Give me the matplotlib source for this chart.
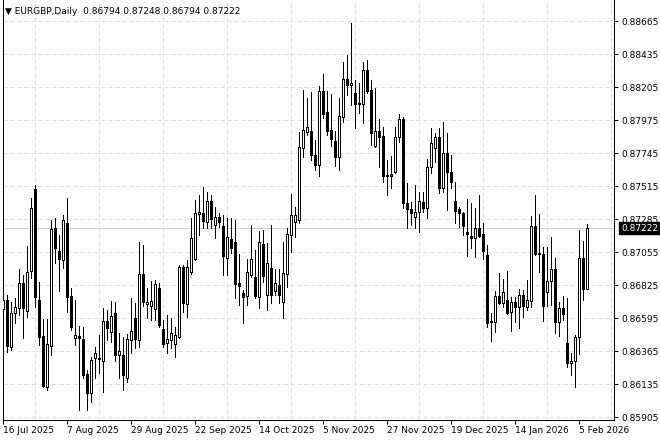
import numpy as np
import pandas as pd
import matplotlib
matplotlib.use("Agg")
import matplotlib.pyplot as plt
import matplotlib.transforms as mtransforms

# ----- EURGBP daily candles ----- #
symbol = "EURGBP,Daily"

opens = [0.86657, 0.86720, 0.86392, 0.86629, 0.86664, 0.86839, 0.86643, 0.86922, 0.87494, 0.86720,
         0.86469, 0.86114, 0.86399, 0.87222, 0.87062, 0.86999, 0.87257, 0.86748, 0.86455, 0.86469,
         0.86448, 0.86204, 0.86072, 0.86316, 0.86316, 0.86295, 0.86574, 0.86497, 0.86629, 0.86337,
         0.86337, 0.86176, 0.86441, 0.86594, 0.86441, 0.86901, 0.86692, 0.86678, 0.86657, 0.86804,
         0.86518, 0.86420, 0.86441, 0.86413, 0.86462, 0.86950, 0.86692, 0.86915, 0.87006, 0.87319,
         0.87326, 0.87264, 0.87410, 0.87243, 0.87299, 0.87236, 0.87013, 0.87145, 0.87124, 0.86839,
         0.86769, 0.86748, 0.86894, 0.86880, 0.86741, 0.87110, 0.86755, 0.86943, 0.86783, 0.86825,
         0.86706, 0.86901, 0.87173, 0.87264, 0.87278, 0.87779, 0.87891, 0.87898, 0.87731, 0.87661,
         0.88177, 0.88030, 0.87905, 0.87828, 0.87717, 0.87996, 0.88260, 0.88219, 0.88163, 0.88086,
         0.88086, 0.88323, 0.88184, 0.87793, 0.87898, 0.87863, 0.87584, 0.87598, 0.87612, 0.87856,
         0.87982, 0.87396, 0.87354, 0.87299, 0.87333, 0.87403, 0.87361, 0.87647, 0.87779, 0.87856,
         0.87501, 0.87745, 0.87612, 0.87410, 0.87354, 0.87326, 0.87194, 0.87166, 0.87152, 0.87222,
         0.87180, 0.87034, 0.86574, 0.86567, 0.86748, 0.86699, 0.86720, 0.86636, 0.86706, 0.86671,
         0.86755, 0.86671, 0.86713, 0.87236, 0.87048, 0.87041, 0.86776, 0.86852, 0.86936, 0.86567,
         0.86664, 0.86420, 0.86281, 0.86295, 0.86462, 0.87013, 0.86794]

highs = [0.86978, 0.86755, 0.86706, 0.86734, 0.86936, 0.86894, 0.87096, 0.87431, 0.87522, 0.86846,
         0.86588, 0.86588, 0.87278, 0.87292, 0.87173, 0.87312, 0.87431, 0.86804, 0.86720, 0.86539,
         0.86532, 0.86232, 0.86323, 0.86392, 0.86476, 0.86664, 0.86650, 0.86713, 0.86706, 0.86490,
         0.86462, 0.86483, 0.86734, 0.86699, 0.87124, 0.87103, 0.86804, 0.86852, 0.86859, 0.86839,
         0.86581, 0.86615, 0.86594, 0.86532, 0.86964, 0.86964, 0.86999, 0.87292, 0.87417, 0.87452,
         0.87508, 0.87473, 0.87452, 0.87368, 0.87326, 0.87312, 0.87292, 0.87292, 0.87278, 0.87041,
         0.86790, 0.87006, 0.87243, 0.87069, 0.87201, 0.87208, 0.87117, 0.87243, 0.86936, 0.86936,
         0.87124, 0.87222, 0.87459, 0.87368, 0.87891, 0.88184, 0.88128, 0.88170, 0.87835, 0.88212,
         0.88295, 0.88177, 0.88156, 0.87898, 0.88128, 0.88379, 0.88428, 0.88651, 0.88253, 0.88233,
         0.88379, 0.88393, 0.88253, 0.88198, 0.87982, 0.87926, 0.87696, 0.87724, 0.87926, 0.88016,
         0.87996, 0.87536, 0.87403, 0.87522, 0.87473, 0.87473, 0.87703, 0.87919, 0.87884, 0.87919,
         0.87961, 0.87884, 0.87731, 0.87543, 0.87368, 0.87333, 0.87424, 0.87396, 0.87361, 0.87452,
         0.87257, 0.87103, 0.86629, 0.86783, 0.86908, 0.86866, 0.86922, 0.86741, 0.86741, 0.86797,
         0.86790, 0.86859, 0.87306, 0.87452, 0.87319, 0.87089, 0.87089, 0.87159, 0.87013, 0.86706,
         0.86748, 0.86734, 0.86351, 0.86476, 0.87208, 0.87131, 0.87248]

lows = [0.86476, 0.86358, 0.86372, 0.86560, 0.86615, 0.86455, 0.86601, 0.86873, 0.86671, 0.86406,
        0.86114, 0.86093, 0.86337, 0.86978, 0.86783, 0.86943, 0.86636, 0.86511, 0.86406, 0.85953,
        0.86176, 0.85953, 0.86009, 0.86176, 0.86211, 0.86079, 0.86441, 0.86427, 0.86295, 0.86176,
        0.86093, 0.86148, 0.86351, 0.86385, 0.86392, 0.86678, 0.86594, 0.86581, 0.86581, 0.86532,
        0.86392, 0.86351, 0.86385, 0.86323, 0.86455, 0.86636, 0.86601, 0.86901, 0.86999, 0.87173,
        0.87222, 0.87222, 0.87222, 0.87152, 0.87229, 0.86894, 0.86894, 0.87048, 0.86734, 0.86685,
        0.86560, 0.86685, 0.86880, 0.86734, 0.86664, 0.86846, 0.86650, 0.86699, 0.86755, 0.86699,
        0.86594, 0.86811, 0.87055, 0.87159, 0.87257, 0.87717, 0.87870, 0.87696, 0.87626, 0.87584,
        0.87989, 0.87870, 0.87793, 0.87654, 0.87626, 0.87961, 0.88149, 0.88079, 0.87919, 0.88023,
        0.87954, 0.88163, 0.87800, 0.87786, 0.87647, 0.87543, 0.87452, 0.87501, 0.87605, 0.87821,
        0.87361, 0.87222, 0.87243, 0.87222, 0.87194, 0.87333, 0.87292, 0.87605, 0.87682, 0.87466,
        0.87473, 0.87347, 0.87501, 0.87257, 0.87229, 0.87173, 0.87027, 0.87082, 0.87020, 0.87159,
        0.87006, 0.86532, 0.86434, 0.86497, 0.86692, 0.86671, 0.86622, 0.86504, 0.86567, 0.86525,
        0.86601, 0.86650, 0.86671, 0.87034, 0.86915, 0.86574, 0.86678, 0.86685, 0.86490, 0.86469,
        0.86581, 0.86253, 0.86197, 0.86114, 0.86344, 0.86720, 0.86794]

closes = [0.86720, 0.86399, 0.86629, 0.86671, 0.86839, 0.86664, 0.86915, 0.87361, 0.86741, 0.86462,
          0.86121, 0.86413, 0.87215, 0.87082, 0.87006, 0.87278, 0.86741, 0.86532, 0.86476, 0.86455,
          0.86197, 0.86072, 0.86302, 0.86351, 0.86309, 0.86574, 0.86525, 0.86608, 0.86337, 0.86364,
          0.86197, 0.86448, 0.86504, 0.86448, 0.86901, 0.86706, 0.86706, 0.86713, 0.86832, 0.86546,
          0.86413, 0.86448, 0.86490, 0.86476, 0.86950, 0.86699, 0.86950, 0.87152, 0.87326, 0.87333,
          0.87271, 0.87410, 0.87285, 0.87299, 0.87264, 0.87027, 0.87159, 0.87082, 0.86832, 0.86818,
          0.86741, 0.86915, 0.87006, 0.86748, 0.87124, 0.86887, 0.86978, 0.86755, 0.86839, 0.86755,
          0.86908, 0.87180, 0.87312, 0.87312, 0.87786, 0.87905, 0.87926, 0.87731, 0.87661, 0.88177,
          0.88016, 0.87898, 0.87842, 0.87717, 0.88003, 0.88260, 0.88219, 0.88233, 0.88086, 0.88093,
          0.88323, 0.88177, 0.87884, 0.87898, 0.87856, 0.87584, 0.87591, 0.87584, 0.87856, 0.87982,
          0.87396, 0.87354, 0.87326, 0.87333, 0.87410, 0.87361, 0.87647, 0.87814, 0.87856, 0.87501,
          0.87745, 0.87612, 0.87543, 0.87340, 0.87326, 0.87236, 0.87180, 0.87152, 0.87222, 0.87166,
          0.87062, 0.86560, 0.86567, 0.86748, 0.86699, 0.86776, 0.86629, 0.86706, 0.86671, 0.86755,
          0.86678, 0.86720, 0.87236, 0.87041, 0.87041, 0.86678, 0.86852, 0.86936, 0.86567, 0.86664,
          0.86622, 0.86281, 0.86295, 0.86462, 0.87013, 0.86797, 0.87222]

# trading days (no bars on 25 Dec / 1 Jan)
dates = pd.bdate_range("2025-07-16", "2026-02-20")
dates = dates[~dates.strftime("%m-%d").isin(["12-25", "01-01"])][:len(opens)]

price_ticks = [0.85905, 0.86135, 0.86365, 0.86595, 0.86825, 0.87055, 0.87285,
               0.87515, 0.87745, 0.87975, 0.88205, 0.88435, 0.88665]

o = np.array(opens)
h = np.array(highs)
l = np.array(lows)
c = np.array(closes)
h = np.maximum(h, np.maximum(o, c))
l = np.minimum(l, np.minimum(o, c))
x = np.arange(len(o))
up = c >= o

# ----- Plot ----- #
fig = plt.figure(figsize=(6.6, 4.41), dpi=100)
fig.patch.set_facecolor("white")
ax = fig.add_axes([3 / 660, 21 / 441, 611 / 660, 420 / 441])

fs = 6.5
px = 0.72  # one pixel in points
grid_kw = dict(color="#dddddd", linewidth=px, linestyle=(0, (4, 3)))

ax.set_xlim(-0.1, 152.7)
ax.set_ylim(0.858841, 0.888114)

# grid
ax.set_yticks(price_ticks)
ax.set_yticklabels([f"{p:.5f}" for p in price_ticks])
ax.grid(axis="y", which="major", **grid_kw)
ax.set_xticks(np.arange(0, len(o), 16))
ax.set_xticklabels([f"{d.day} {d.strftime('%b %Y')}" for d in dates[::16]])
ax.set_xticks(np.arange(0, 153, 8), minor=True)
ax.grid(axis="x", which="minor", **grid_kw)
ax.set_axisbelow(True)

# last price line
ax.axhline(c[-1], color="#cfcfcf", linewidth=px, zorder=1)

# candles
ax.vlines(x, l, h, color="black", linewidth=px, zorder=2, antialiased=False)
body_lo = np.minimum(o, c)
body_h = np.abs(c - o)
ax.bar(x[up], body_h[up], bottom=body_lo[up], width=0.5, color="white",
       edgecolor="black", linewidth=px, zorder=3, antialiased=False)
ax.bar(x[~up], body_h[~up], bottom=body_lo[~up], width=0.5, color="black",
       edgecolor="black", linewidth=px, zorder=3, antialiased=False)

# axes styling
ax.spines["top"].set_visible(False)
for s in ["left", "right", "bottom"]:
    ax.spines[s].set_color("black")
    ax.spines[s].set_linewidth(px)
ax.yaxis.tick_right()
ax.tick_params(axis="y", which="major", direction="out", length=3, width=px,
               labelsize=fs, pad=2, colors="black")
ax.tick_params(axis="x", which="major", direction="out", length=3, width=px,
               labelsize=fs, pad=1.5, colors="black")
ax.tick_params(axis="x", which="minor", length=0)
for lab in ax.get_xticklabels():
    lab.set_horizontalalignment("left")

# last price tag
trans = mtransforms.blended_transform_factory(ax.transAxes, ax.transData)
ax.text(1.0 + 7 / 611, c[-1], f"{c[-1]:.5f}", transform=trans, fontsize=fs,
        color="white", va="center", ha="left", clip_on=False, zorder=5,
        bbox=dict(boxstyle="square,pad=0.2", facecolor="black", edgecolor="black"))

# header
fig.text(5 / 660, 1 - 11 / 441,
         f"\u25bc {symbol}  {o[-1]:.5f} {h[-1]:.5f} {l[-1]:.5f} {c[-1]:.5f}",
         fontsize=fs, va="center", ha="left", color="black")

fig.savefig("out.png", dpi=100, facecolor="white")
